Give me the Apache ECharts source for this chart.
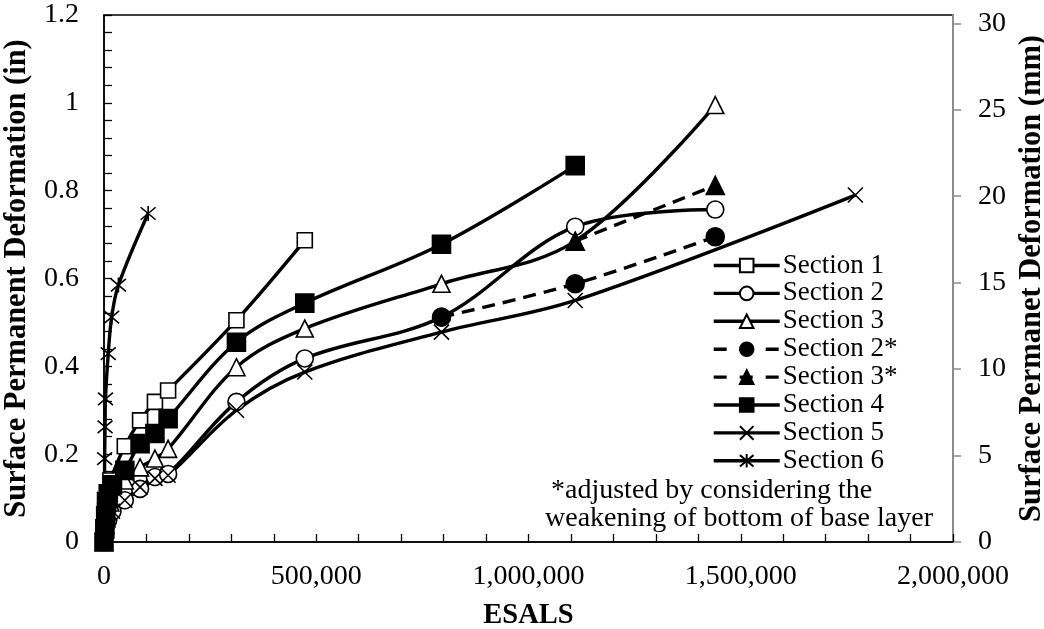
<!DOCTYPE html>
<html>
<head>
<meta charset="utf-8">
<script src="https://cdn.jsdelivr.net/npm/echarts@6/dist/echarts.min.js"></script>
<style>
html,body{margin:0;padding:0;background:#fff;}
#chart{width:1044px;height:629px;}
</style>
</head>
<body>
<div id="chart"></div>
<script>
// ---- data ----
const seriesNames = ['Section 1','Section 2','Section 3','Section 2*','Section 3*','Section 4','Section 5','Section 6'];

const s1Esals = [0, 3000, 8000, 15000, 49000, 85000, 120000, 151000, 312000, 473000];
const s1Def   = [0, 0.05, 0.10, 0.14, 0.218, 0.277, 0.319, 0.345, 0.505, 0.687];

const s2Esals = [0, 3000, 10000, 20000, 49000, 85000, 120000, 151000, 312000, 473000, 795000, 1110000, 1440000];
const s2Def   = [0, 0.03, 0.05, 0.07, 0.095, 0.121, 0.148, 0.155, 0.319, 0.418, 0.512, 0.718, 0.757];

const s3Esals = [0, 3000, 8000, 15000, 49000, 85000, 120000, 151000, 312000, 473000, 795000, 1110000, 1440000];
const s3Def   = [0, 0.04, 0.07, 0.09, 0.14, 0.17, 0.19, 0.212, 0.398, 0.486, 0.588, 0.685, 0.995];

const s2aEsals = [795000, 1110000, 1440000];
const s2aDef   = [0.512, 0.588, 0.695];

const s3aEsals = [1110000, 1440000];
const s3aDef   = [0.685, 0.812];

const s4Esals = [0, 2000, 4000, 6000, 10000, 20000, 49000, 85000, 120000, 151000, 312000, 473000, 795000, 1110000];
const s4Def   = [0, 0.03, 0.06, 0.09, 0.11, 0.13, 0.163, 0.224, 0.247, 0.281, 0.455, 0.544, 0.678, 0.857];

const s5Esals = [0, 3000, 10000, 20000, 49000, 85000, 120000, 151000, 312000, 473000, 795000, 1110000, 1770000];
const s5Def   = [0, 0.03, 0.05, 0.07, 0.095, 0.125, 0.145, 0.152, 0.30, 0.387, 0.478, 0.55, 0.79];

const s6Esals = [0, 500, 1000, 1500, 2500, 3500, 10000, 18000, 34000, 104000];
const s6Def   = [0, 0.05, 0.10, 0.19, 0.262, 0.326, 0.429, 0.512, 0.585, 0.748];

const leftTicks = [0, 0.2, 0.4, 0.6, 0.8, 1, 1.2];
const rightTicks = [0, 5, 10, 15, 20, 25, 30];
const xTicks = [0, 500000, 1000000, 1500000, 2000000];

const noteLine1 = '*adjusted by considering the';
const noteLine2 = 'weakening of bottom of base layer';

// ---- chart ----
const FONT = "'Liberation Serif', 'Times New Roman', serif";
const X_PATH = 'path://M0,0L10,10M10,0L0,10';
const STAR_PATH = 'path://M0,0L10,10M10,0L0,10M5,-1L5,11';
const LW = 3.4;

function pairs(xs, ys){ return xs.map((x,i)=>[x, ys[i]]); }

function mk(name, xs, ys, symbol, size, filled, dashed){
  return {
    name: name,
    type: 'line',
    data: pairs(xs, ys),
    smooth: 0.35,
    symbol: symbol,
    symbolSize: size,
    showAllSymbol: true,
    itemStyle: {color: filled ? '#000' : '#fff', borderColor: '#000', borderWidth: 1.6},
    lineStyle: {color: '#000', width: LW, type: dashed ? [13, 8] : 'solid'},
    emphasis: {disabled: true},
    animation: false
  };
}

const series = [
  mk(seriesNames[0], s1Esals, s1Def, 'rect', 15, false, false),
  mk(seriesNames[1], s2Esals, s2Def, 'circle', 17, false, false),
  mk(seriesNames[2], s3Esals, s3Def, 'triangle', 17, false, false),
  mk(seriesNames[3], s2aEsals, s2aDef, 'circle', 18, true, true),
  mk(seriesNames[4], s3aEsals, s3aDef, 'triangle', 18, true, true),
  mk(seriesNames[5], s4Esals, s4Def, 'rect', 18, true, false),
  mk(seriesNames[6], s5Esals, s5Def, X_PATH, 15, false, false),
  mk(seriesNames[7], s6Esals, s6Def, STAR_PATH, 15, false, false)
];

const legendData = seriesNames.map(n => {
  const dashed = n.indexOf('*') >= 0;
  return {name: n, lineStyle: {width: LW, color: '#000', type: dashed ? [13, 13] : 'solid'}};
});

const chart = echarts.init(document.getElementById('chart'), null, {renderer: 'canvas'});
chart.setOption({
  animation: false,
  backgroundColor: '#fff',
  textStyle: {fontFamily: FONT, color: '#000'},
  grid: {left: 104, right: 91, top: 15, bottom: 87, containLabel: false, outerBoundsMode: 'none',
         show: true, borderColor: '#000', borderWidth: 1.5, backgroundColor: 'transparent'},
  legend: {
    data: legendData,
    orient: 'vertical',
    left: 712, top: 252,
    itemWidth: 66, itemHeight: 17, itemGap: 0.9,
    lineStyle: {width: LW},
    textStyle: {fontFamily: FONT, fontSize: 27, color: '#000', lineHeight: 26, padding: [0,0,0,-2]},
    selectedMode: false,
    padding: 0
  },
  xAxis: {
    type: 'value', min: 0, max: 2000000, interval: 500000,
    name: 'ESALS', nameLocation: 'middle', nameGap: 59,
    nameTextStyle: {fontFamily: FONT, fontSize: 28.5, fontWeight: 'bold', color: '#000'},
    axisLine: {show: true, onZero: false, lineStyle: {color: '#000', width: 1.5}},
    axisTick: {show: true, inside: true, length: 8, lineStyle: {color: '#000', width: 1.3}},
    minorTick: {show: true, splitNumber: 5, length: 8, lineStyle: {color: '#000', width: 1.3}},
    splitLine: {show: false},
    axisLabel: {margin: 21, fontFamily: FONT, fontSize: 28, color: '#000',
      formatter: v => xTicks.indexOf(v) >= 0 ? v.toLocaleString('en-US') : ''}
  },
  yAxis: [{
    type: 'value', min: 0, max: 1.2, interval: 0.2, position: 'left',
    name: 'Surface Permanent Deformation (in)', nameLocation: 'middle', nameGap: 58, nameRotate: 90,
    nameTextStyle: {fontFamily: FONT, fontSize: 30.5, fontWeight: 'bold', color: '#000'},
    axisLine: {show: true, onZero: false, lineStyle: {color: '#000', width: 1.5}},
    axisTick: {show: true, inside: true, length: 8, lineStyle: {color: '#000', width: 1.3}},
    minorTick: {show: true, splitNumber: 5, length: 8, lineStyle: {color: '#000', width: 1.3}},
    splitLine: {show: false},
    axisLabel: {margin: 25, fontFamily: FONT, fontSize: 28, color: '#000',
      formatter: v => { const r = Math.round(v*10)/10; return leftTicks.indexOf(r) >= 0 ? String(r) : ''; }}
  }, {
    type: 'value', min: 0, max: 30.48, interval: 5, position: 'right',
    name: 'Surface Permanet Deformation (mm)', nameLocation: 'middle', nameGap: 57, nameRotate: 90,
    nameTextStyle: {fontFamily: FONT, fontSize: 30.5, fontWeight: 'bold', color: '#000'},
    axisLine: {show: true, onZero: false, lineStyle: {color: '#8c8c8c', width: 2}},
    axisTick: {show: true, inside: false, length: 8, customValues: rightTicks, lineStyle: {color: '#8c8c8c', width: 1.5}},
    splitLine: {show: false},
    axisLabel: {margin: 25, fontFamily: FONT, fontSize: 28, color: '#000', customValues: rightTicks,
      formatter: v => rightTicks.indexOf(v) >= 0 ? String(v) : ''}
  }],
  graphic: [
    {type: 'text', left: 551, top: 477, style: {text: noteLine1, font: "28px " + FONT, fill: '#000'}, z: 100},
    {type: 'text', left: 545, top: 505, style: {text: noteLine2, font: "28px " + FONT, fill: '#000'}, z: 100}
  ],
  series: series
});
</script>
</body>
</html>
